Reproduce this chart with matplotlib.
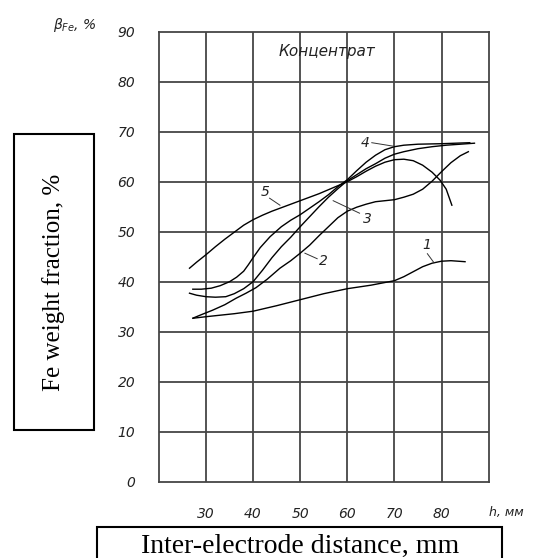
import matplotlib
matplotlib.use("Agg")
import matplotlib.pyplot as plt
from matplotlib.patches import Rectangle

# ---- data ----
x1 = [27.3, 30, 33, 36, 40, 45, 50, 55, 60, 65, 70, 72, 74, 76, 78, 80, 82, 85]
y1 = [32.7, 33.0, 33.3, 33.6, 34.1, 35.2, 36.4, 37.6, 38.6, 39.3, 40.2, 41.0, 42.0, 43.0, 43.7, 44.1, 44.2, 44.0]

x2 = [27.2, 29, 31.4, 34, 36.4, 38.5, 40.6, 43, 45.7, 48, 50, 52, 54, 56, 58, 60, 62, 64, 66, 68, 70,
      72, 74, 76, 78, 80, 82, 84, 85.7]
y2 = [32.7, 33.4, 34.3, 35.4, 36.7, 37.7, 38.8, 40.5, 42.7, 44.2, 45.7, 47.3, 49.2, 51.0, 52.8, 54.1,
      54.9, 55.5, 56.0, 56.2, 56.4, 56.9, 57.5, 58.5, 60.1, 62.0, 63.8, 65.2, 66.0]

x3 = [26.5, 28, 30, 32, 34.2, 36, 38, 40, 42, 44, 46, 48, 50, 52, 54, 56, 58, 60, 62, 64, 66, 68, 70,
      72, 75, 78, 81, 84, 87]
y3 = [37.7, 37.3, 37.0, 36.9, 37.0, 37.6, 38.6, 40.0, 42.3, 44.8, 47.0, 48.9, 51.0, 53.0, 55.0, 56.9,
      58.6, 60.2, 61.4, 62.6, 63.6, 64.7, 65.5, 66.0, 66.6, 67.0, 67.3, 67.5, 67.7]

x4 = [27.2, 29, 31.1, 33, 35, 36.5, 38, 39, 40, 41.5, 43.6, 46, 48, 50, 52, 54, 56, 58, 60, 62, 64, 66,
      68, 70, 72, 75, 80, 86]
y4 = [38.5, 38.5, 38.7, 39.2, 40.0, 40.9, 42.1, 43.4, 44.8, 46.8, 49.0, 51.0, 52.3, 53.4, 54.7, 56.0,
      57.4, 59.0, 60.4, 62.2, 63.9, 65.3, 66.4, 67.0, 67.3, 67.5, 67.6, 67.8]

x5 = [26.5, 28, 30, 32, 34, 36, 38, 40, 42, 44, 46, 48, 50, 52, 54, 56, 58, 60, 62, 64, 66, 68, 70,
      72, 74, 76, 78, 79.7, 81, 82.2]
y5 = [42.7, 43.9, 45.4, 47.0, 48.5, 49.9, 51.3, 52.4, 53.3, 54.1, 54.8, 55.5, 56.2, 56.9, 57.6, 58.4,
      59.2, 60.0, 61.0, 62.1, 63.1, 63.9, 64.4, 64.5, 64.2, 63.3, 61.9, 60.3, 58.5, 55.3]

curves = [(x1, y1), (x2, y2), (x3, y3), (x4, y4), (x5, y5)]
curve_labels = ["1", "2", "3", "4", "5"]
# label text position and leader line (from, to)
label_pos = [(76.8, 47.3), (54.9, 44.2), (64.2, 52.6), (63.8, 67.7), (42.5, 58.0)]
leader = [((77.0, 45.6), (78.4, 43.8)), ((53.6, 44.6), (51.0, 45.7)), ((62.6, 53.7), (57.0, 56.2)),
          ((65.2, 67.8), (69.8, 67.1)), ((43.5, 56.7), (45.7, 55.3))]

xticks = [30, 40, 50, 60, 70, 80]
yticks = [0, 10, 20, 30, 40, 50, 60, 70, 80, 90]

W, H = 533, 558
fig = plt.figure(figsize=(W / 100, H / 100), dpi=100)
L, R, T, B = 158.9, 488.6, 31.7, 481.7
ax = fig.add_axes([L / W, 1 - B / H, (R - L) / W, (B - T) / H])
ax.set_xlim(20, 90)
ax.set_ylim(0, 90)

gridc = "#454545"
for v in range(30, 90, 10):
    ax.axvline(v, color=gridc, lw=1.3, zorder=1)
for v in range(10, 90, 10):
    ax.axhline(v, color=gridc, lw=1.3, zorder=1)
for s in ax.spines.values():
    s.set_color(gridc)
    s.set_linewidth(1.3)

tickfont = dict(family="DejaVu Sans", style="italic", size=10)
ax.set_xticks(xticks)
ax.set_xticklabels([str(t) for t in xticks], **tickfont)
ax.set_yticks(yticks)
ax.set_yticklabels([str(t) for t in yticks], **tickfont)
ax.tick_params(axis="both", length=0, colors="#222222")
ax.tick_params(axis="x", pad=18)
ax.tick_params(axis="y", pad=17)

for (xs, ys) in curves:
    ax.plot(xs, ys, color="black", lw=1.0, zorder=3)

for lab, (tx, ty), (p0, p1) in zip(curve_labels, label_pos, leader):
    ax.text(tx, ty, lab, ha="center", va="center", color="#222222", **tickfont)
    ax.plot([p0[0], p1[0]], [p0[1], p1[1]], color="#333333", lw=0.7, zorder=3)

ax.text(55.6, 86.1, "Концентрат", ha="center", va="center", family="DejaVu Sans",
        style="italic", size=11, color="#222222")
ax.text(90.1, -6.1, "h, мм", ha="left", va="center", clip_on=False, family="DejaVu Sans",
        style="italic", size=9, color="#222222")

fig.text(75 / W, 1 - 25 / H, r"$\beta_{Fe}$, %", ha="center", va="center",
         style="italic", size=10, color="#222222")

# boxed axis titles
fig.patches.append(Rectangle((14 / W, 1 - 430 / H), 80 / W, 296 / H, transform=fig.transFigure,
                             fill=False, ec="black", lw=1.5))
fig.text(54 / W, 1 - 282 / H, "Fe weight fraction, %", rotation=90, ha="center", va="center",
         family="Liberation Serif", size=18)
fig.patches.append(Rectangle((97 / W, 1 - 565 / H), 405 / W, 38 / H, transform=fig.transFigure,
                             fill=False, ec="black", lw=1.5))
fig.text(300 / W, 1 - 546 / H, "Inter-electrode distance, mm", ha="center", va="center",
         family="Liberation Serif", size=20)

fig.savefig("out.png", dpi=100)
